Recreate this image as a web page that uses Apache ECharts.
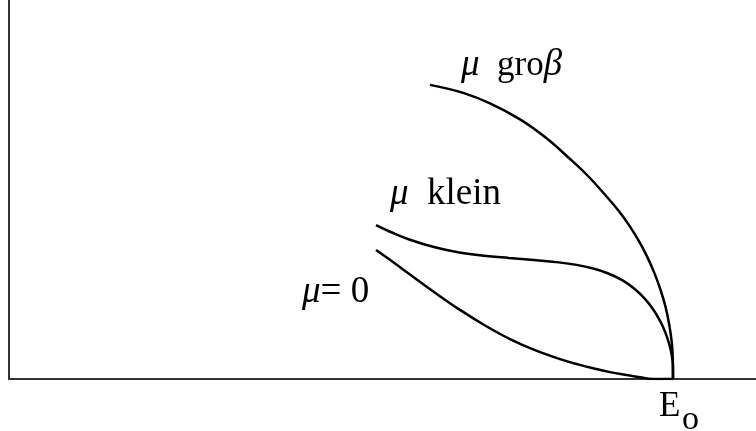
<!DOCTYPE html>
<html>
<head>
<meta charset="utf-8">
<script src="https://cdn.jsdelivr.net/npm/echarts@6/dist/echarts.min.js"></script>
<style>
  html, body { margin: 0; padding: 0; background: #fff; }
  #main { width: 756px; height: 431px; }
</style>
</head>
<body>
<div id="main"></div>
<script>
// x = E / E0, y in arbitrary units (0..1 = axis height)
let muGross = [
    [0.634, 0.776], [0.684, 0.755], [0.7244, 0.7272], [0.7696, 0.6850],
    [0.8077, 0.6377], [0.8449, 0.5805], [0.8727, 0.5343], [0.9006, 0.4802],
    [0.9181, 0.4438], [0.9340, 0.4053], [0.9483, 0.3649], [0.9610, 0.3229],
    [0.9720, 0.2794], [0.9813, 0.2348], [0.9889, 0.1892], [0.9944, 0.1427],
    [0.9982, 0.0958], [0.9998, 0.0482], [1.0, 0]
];
let muKlein = [
    [0.5527, 0.4063], [0.5786, 0.3852], [0.6038, 0.3675], [0.6413, 0.3475],
    [0.6782, 0.3338], [0.7155, 0.3251], [0.7530, 0.3193], [0.7905, 0.3140],
    [0.8280, 0.3077], [0.8548, 0.3011], [0.8785, 0.2923], [0.9017, 0.2791],
    [0.9235, 0.2607], [0.9422, 0.2377], [0.9577, 0.2116], [0.9700, 0.1839],
    [0.9803, 0.1538], [0.9881, 0.1243], [0.9941, 0.0934], [0.9980, 0.0641],
    [0.9998, 0.0367], [1.0, 0]
];
let muNull = [
    [0.5527, 0.3404], [0.5783, 0.3089], [0.6039, 0.2757], [0.6416, 0.2277],
    [0.6792, 0.1823], [0.7169, 0.1412], [0.7545, 0.1053], [0.7922, 0.0760],
    [0.8298, 0.0525], [0.8569, 0.0385], [0.8795, 0.0282], [0.9051, 0.0182],
    [0.9307, 0.0103], [0.9503, 0.0047], [0.9684, 0], [1.0, 0]
];
let xMax = 1.125;
let yMax = 1.0;

let myChart = echarts.init(document.getElementById('main'));

let serif = '"Liberation Serif", "DejaVu Serif", serif';
let axisStyle = {
    show: true,
    lineStyle: { color: '#333', width: 2 }
};
let curve = function (name, data) {
    return {
        name: name,
        type: 'line',
        data: data,
        smooth: 0.4,
        showSymbol: false,
        silent: true,
        lineStyle: { color: '#000', width: 2.5 }
    };
};
let muRich = { m: { fontStyle: 'italic', fontSize: 37, fontFamily: serif } };

let option = {
    animation: false,
    grid: { left: 9, right: 0, top: 0, bottom: 52 },
    xAxis: {
        type: 'value', min: 0, max: xMax,
        axisLine: axisStyle, axisTick: { show: false },
        axisLabel: { show: false }, splitLine: { show: false }
    },
    yAxis: {
        type: 'value', min: 0, max: yMax,
        axisLine: axisStyle, axisTick: { show: false },
        axisLabel: { show: false }, splitLine: { show: false }
    },
    series: [
        curve('mu gross', muGross),
        curve('mu klein', muKlein),
        curve('mu = 0', muNull)
    ],
    graphic: [
        {
            type: 'text', left: 461, top: 47,
            style: {
                text: '{m|μ}  gro{m|β}',
                font: '35px ' + serif, fill: '#000', rich: muRich
            }
        },
        {
            type: 'text', left: 390, top: 176,
            style: {
                text: '{m|μ}  klein',
                font: '37px ' + serif, fill: '#000', rich: muRich
            }
        },
        {
            type: 'text', left: 302, top: 274,
            style: {
                text: '{m|μ}= 0',
                font: '37px ' + serif, fill: '#000', rich: muRich
            }
        },
        {
            type: 'text', left: 659, top: 389,
            style: { text: 'E', font: '35px ' + serif, fill: '#000' }
        },
        {
            type: 'text', left: 682, top: 403,
            style: { text: 'o', font: '34px ' + serif, fill: '#000' }
        }
    ]
};

myChart.setOption(option);
</script>
</body>
</html>
